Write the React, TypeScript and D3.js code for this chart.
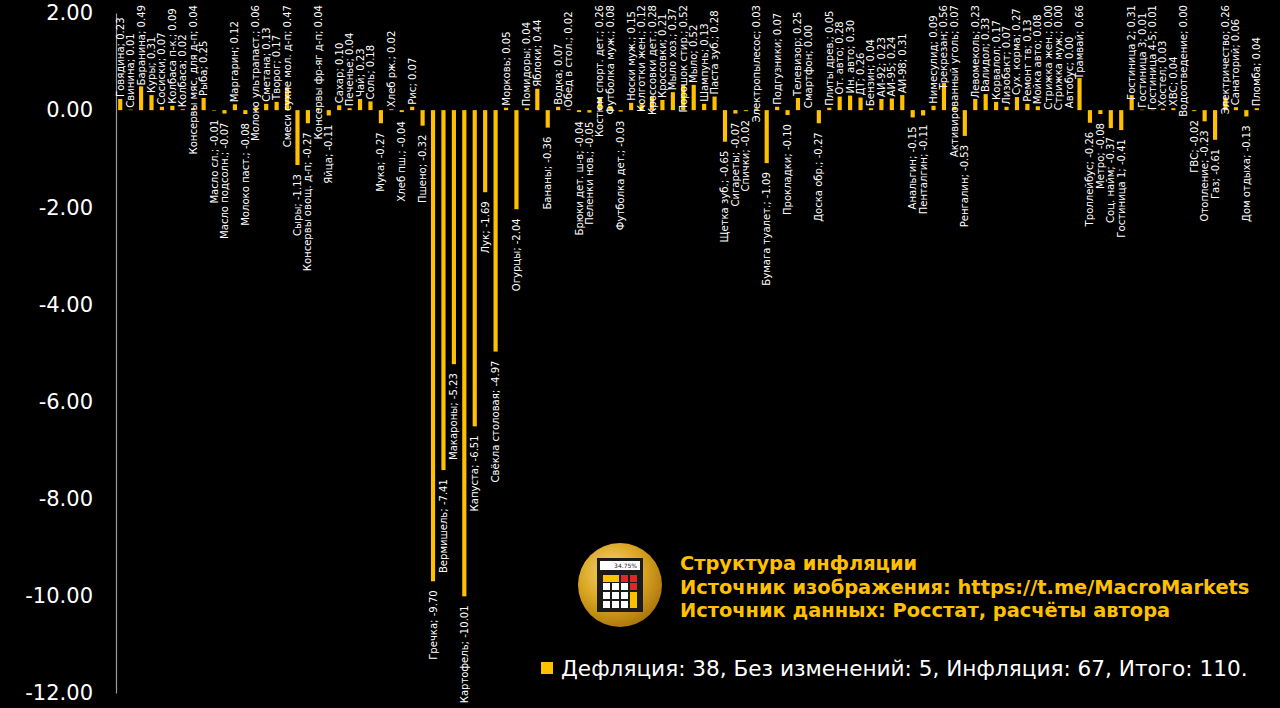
import React, { useEffect, useRef } from 'react'
import * as d3 from 'd3'

const categories = [
  'Говядина', 'Свинина', 'Баранина', 'Куры', 'Сосиски', 'Колбаса п-к.', 'Колбаса',
  'Консервы мяс. для д-п', 'Рыба', 'Масло сл.', 'Масло подсолн.', 'Маргарин',
  'Молоко паст.', 'Молоко ультрапаст.', 'Сметана', 'Творог', 'Смеси сухие мол. д-п',
  'Сыры', 'Консервы овощ. д-п', 'Консервы фр-яг д-п', 'Яйца', 'Сахар', 'Печенье',
  'Чай', 'Соль', 'Мука', 'Хлеб рж.', 'Хлеб пш.', 'Рис', 'Пшено', 'Гречка',
  'Вермишель', 'Макароны', 'Картофель', 'Капуста', 'Лук', 'Свёкла столовая',
  'Морковь', 'Огурцы', 'Помидоры', 'Яблоки', 'Бананы', 'Водка', 'Обед в стол.',
  'Брюки дет. ш-в', 'Пеленки нов.', 'Костюм спорт. дет.', 'Футболка муж.',
  'Футболка дет.', 'Носки муж.', 'Колготки жен.', 'Кроссовки дет.', 'Кроссовки',
  'Мыло хоз.', 'Порошок стир.', 'Мыло', 'Шампунь', 'Паста зуб.', 'Щетка зуб.',
  'Сигареты', 'Спички', 'Электропылесос', 'Бумага туалет.', 'Подгузники',
  'Прокладки', 'Телевизор', 'Смартфон', 'Доска обр.', 'Плиты древ.', 'От. авто',
  'Ин. авто', 'ДТ', 'Бензин', 'АИ-92', 'АИ-95', 'АИ-98', 'Анальгин', 'Пенталгин',
  'Нимесулид', 'Трекрезан', 'Активированный уголь', 'Ренгалин', 'Левомеколь',
  'Валидол', 'Корвалол', 'Лизобакт', 'Сух. корма', 'Ремонт тв', 'Мойка авто',
  'Стрижка жен.', 'Стрижка муж.', 'Автобус', 'Трамвай', 'Троллейбус', 'Метро',
  'Соц. найм', 'Гостиница 1', 'Гостиница 2', 'Гостиница 3', 'Гостиница 4-5',
  'Хостел', 'ХВС', 'Водоотведение', 'ГВС', 'Отопление', 'Газ', 'Электричество',
  'Санаторий', 'Дом отдыха', 'Пломба',
]

const values = [
  0.23, 0.01, 0.49, 0.31, 0.07, 0.09, 0.02,
  0.04, 0.25, -0.01, -0.07, 0.12,
  -0.08, 0.06, 0.13, 0.17, 0.47,
  -1.13, -0.27, 0.04, -0.11, 0.1, 0.04,
  0.23, 0.18, -0.27, 0.02, -0.04, 0.07, -0.32, -9.7,
  -7.41, -5.23, -10.01, -6.51, -1.69, -4.97,
  0.05, -2.04, 0.04, 0.44, -0.36, 0.07, 0.02,
  -0.04, -0.05, 0.26, 0.08,
  -0.03, 0.15, 0.12, 0.28, 0.21,
  0.37, 0.52, 0.52, 0.13, 0.28, -0.65,
  -0.07, -0.02, 0.03, -1.09, 0.07,
  -0.1, 0.25, 0.0, -0.27, 0.05, 0.28,
  0.3, 0.26, 0.04, 0.23, 0.24, 0.31, -0.15, -0.11,
  0.09, 0.56, 0.07, -0.53, 0.23,
  0.33, 0.17, 0.07, 0.27, 0.13, 0.08,
  0.0, 0.0, 0.0, 0.66, -0.26, -0.08,
  -0.37, -0.41, 0.31, 0.01, 0.01,
  0.03, 0.04, 0.0, -0.02, -0.23, -0.61, 0.26,
  0.06, -0.13, 0.04,
]

const yTicks = [2, 0, -2, -4, -6, -8, -10, -12]

const titleLines = [
  'Структура инфляции',
  'Источник изображения: https://t.me/MacroMarkets',
  'Источник данных: Росстат, расчёты автора',
]

const legendText = 'Дефляция: 38, Без изменений: 5, Инфляция: 67, Итого: 110.'

const W = 1280
const H = 708
const BAR = '#FFC000'
const LABEL_FONT = "'DejaVu Sans Condensed', 'DejaVu Sans', sans-serif"

export default function App() {
  const svgRef = useRef<SVGSVGElement>(null)

  useEffect(() => {
    if (!svgRef.current) return
    const svg = d3.select(svgRef.current)
    svg.selectAll('g.chart').remove()

    const g = svg.append('g').attr('class', 'chart')

    const x = d3
      .scaleBand<string>()
      .domain(categories)
      .range([115, 1262])
      .paddingInner(0.6)
      .paddingOuter(0.3)

    const y = d3.scaleLinear().domain([-12, 2]).range([693, 13])

    // y axis, no ticks, just the line and labels
    const axis = g
      .append('g')
      .attr('transform', 'translate(116,0)')
      .call(
        d3
          .axisLeft(y)
          .tickValues(yTicks)
          .tickSize(0)
          .tickPadding(23)
          .tickFormat((d) => (+d).toFixed(2)),
      )
    axis.select('.domain').attr('stroke', '#9a9a9a').attr('stroke-width', 1.2)
    axis
      .selectAll('text')
      .attr('fill', '#fff')
      .style('font-family', "'DejaVu Sans', sans-serif")
      .style('font-size', '21px')

    const rows = categories.map((name, i) => ({ name, value: values[i] }))

    g.selectAll('rect.bar')
      .data(rows)
      .join('rect')
      .attr('class', 'bar')
      .attr('x', (d) => x(d.name)!)
      .attr('width', x.bandwidth())
      .attr('y', (d) => Math.min(y(d.value), y(0)))
      .attr('height', (d) => Math.abs(y(d.value) - y(0)))
      .attr('fill', BAR)

    const labels = g
      .selectAll('text.lbl')
      .data(rows)
      .join('text')
      .attr('class', 'lbl')
      .attr('fill', '#fff')
      .attr('text-anchor', 'start')
      .attr('dominant-baseline', 'central')
      .style('font-family', LABEL_FONT)
      .style('font-size', '11.2px')
      .text((d) => `${d.name}; ${d.value.toFixed(2)}`)

    // labels sit outside the bar end, pushed back inside the plot when too long
    labels.each(function (d) {
      const node = this as SVGTextElement
      const len = node.getComputedTextLength()
      const cx = x(d.name)! + x.bandwidth() / 2
      let b: number
      if (d.value >= 0) {
        b = y(d.value) - 2
        if (b - len < 5) b = 5 + len
      } else {
        b = y(d.value) + 9 + len
        if (b > 706) b = 706
      }
      d3.select(node).attr('transform', `translate(${cx},${b}) rotate(-90)`)
    })
  }, [])

  return (
    <div style={{ position: 'fixed', inset: 0, background: '#000' }}>
      <svg ref={svgRef} width={W} height={H} style={{ display: 'block' }}>
        <defs>
          <radialGradient id="gold" cx="40%" cy="35%" r="70%">
            <stop offset="0%" stopColor="#f6d77a" />
            <stop offset="55%" stopColor="#d9a521" />
            <stop offset="100%" stopColor="#a8720a" />
          </radialGradient>
        </defs>
        <rect width={W} height={H} fill="#000" />
        {/* calculator icon */}
        <g>
          <circle cx={620} cy={585} r={42} fill="url(#gold)" />
          <rect x={597} y={558} width={46} height={54} fill="#1a1a1a" />
          <rect x={600} y={561} width={40} height={9} fill="#fff" />
          <text x={637} y={568} textAnchor="end" fontSize={6} fill="#222" fontFamily="'DejaVu Sans', sans-serif">
            34.75%
          </text>
          <rect x={603} y={575} width={16} height={7} fill={BAR} />
          <rect x={621} y={575} width={7} height={7} fill="#e0252b" />
          <rect x={630} y={575} width={7} height={7} fill="#e0252b" />
          {[583, 592, 601].map((yy) =>
            [603, 612, 621].map((xx) => (
              <rect key={`${xx}-${yy}`} x={xx} y={yy} width={7} height={7} fill="#fff" />
            )),
          )}
          <rect x={630} y={583} width={7} height={7} fill="#e0252b" />
          <rect x={630} y={592} width={7} height={16} fill={BAR} />
        </g>
        {titleLines.map((t, i) => (
          <text
            key={t}
            x={680}
            y={570 + i * 23.5}
            fill={BAR}
            fontWeight="bold"
            fontSize={19.4}
            fontFamily="'DejaVu Sans', sans-serif"
          >
            {t}
          </text>
        ))}
        <rect x={541} y={662} width={12} height={12} fill={BAR} />
        <text x={561} y={676} fill="#fff" fontSize={21.6} fontFamily="'DejaVu Sans', sans-serif">
          {legendText}
        </text>
      </svg>
    </div>
  )
}
